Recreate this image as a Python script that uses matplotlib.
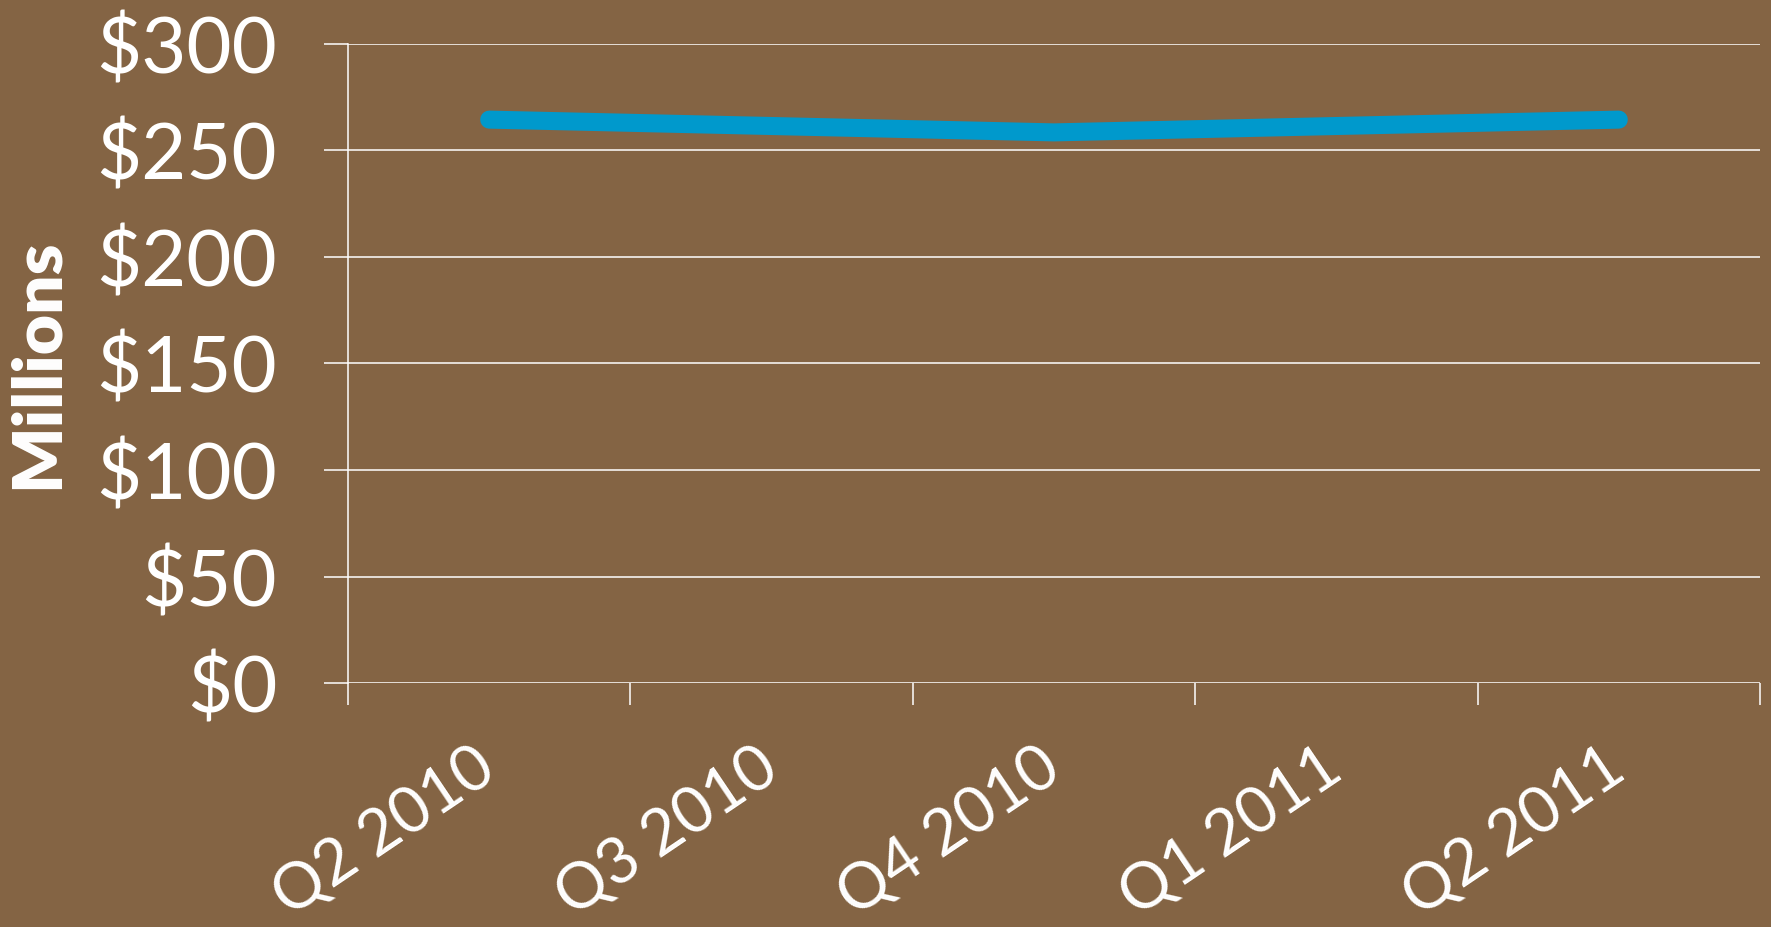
import matplotlib.pyplot as plt
from matplotlib.ticker import FixedLocator, NullFormatter

# quarterly values, $ millions
quarters = ['Q2 2010', 'Q3 2010', 'Q4 2010', 'Q1 2011', 'Q2 2011']
values = [264.5, 261.5, 258.5, 261.5, 264.5]
y_ticks = [0, 50, 100, 150, 200, 250, 300]
y_labels = ['$0', '$50', '$100', '$150', '$200', '$250', '$300']

bg = '#846444'
plt.rcParams['font.family'] = ['Lato', 'DejaVu Sans']

fig = plt.figure(figsize=(17.71, 9.27), dpi=100)
fig.patch.set_facecolor(bg)
ax = fig.add_axes([348 / 1771, 1 - 683 / 927, 1412 / 1771, 639 / 927])
ax.set_facecolor(bg)

x = [i + 0.5 for i in range(len(quarters))]
ax.plot(x, values, color='#0099CC', lw=13, solid_capstyle='round', zorder=3)

ax.set_xlim(0, len(quarters))
ax.set_ylim(0, 300)

# gridlines
ax.set_yticks(y_ticks)
ax.set_yticklabels(y_labels, fontsize=56, color='white')
ax.grid(axis='y', color='white', lw=1.1)
ax.grid(axis='x', visible=False)
ax.set_axisbelow(True)

# category boundaries get ticks, centers get labels
ax.xaxis.set_major_locator(FixedLocator(range(len(quarters) + 1)))
ax.xaxis.set_major_formatter(NullFormatter())
ax.xaxis.set_minor_locator(FixedLocator(x))
ax.set_xticklabels(quarters, minor=True, fontsize=46, color='white',
                   rotation=34, ha='right', va='center', rotation_mode='anchor')
ax.tick_params(axis='x', which='major', length=16, width=1.1, color='white')
ax.tick_params(axis='x', which='minor', length=0, pad=57)
ax.tick_params(axis='y', length=17, width=1.1, color='white', pad=34)

for s in ['top', 'right', 'bottom']:
    ax.spines[s].set_visible(False)
ax.spines['left'].set_color('white')
ax.spines['left'].set_linewidth(1.1)

ax.set_ylabel('Millions', fontsize=50, fontweight='heavy', color='white')
ax.yaxis.set_label_coords(-0.197, 0.5)

fig.savefig('out.png', dpi=100, facecolor=bg)
